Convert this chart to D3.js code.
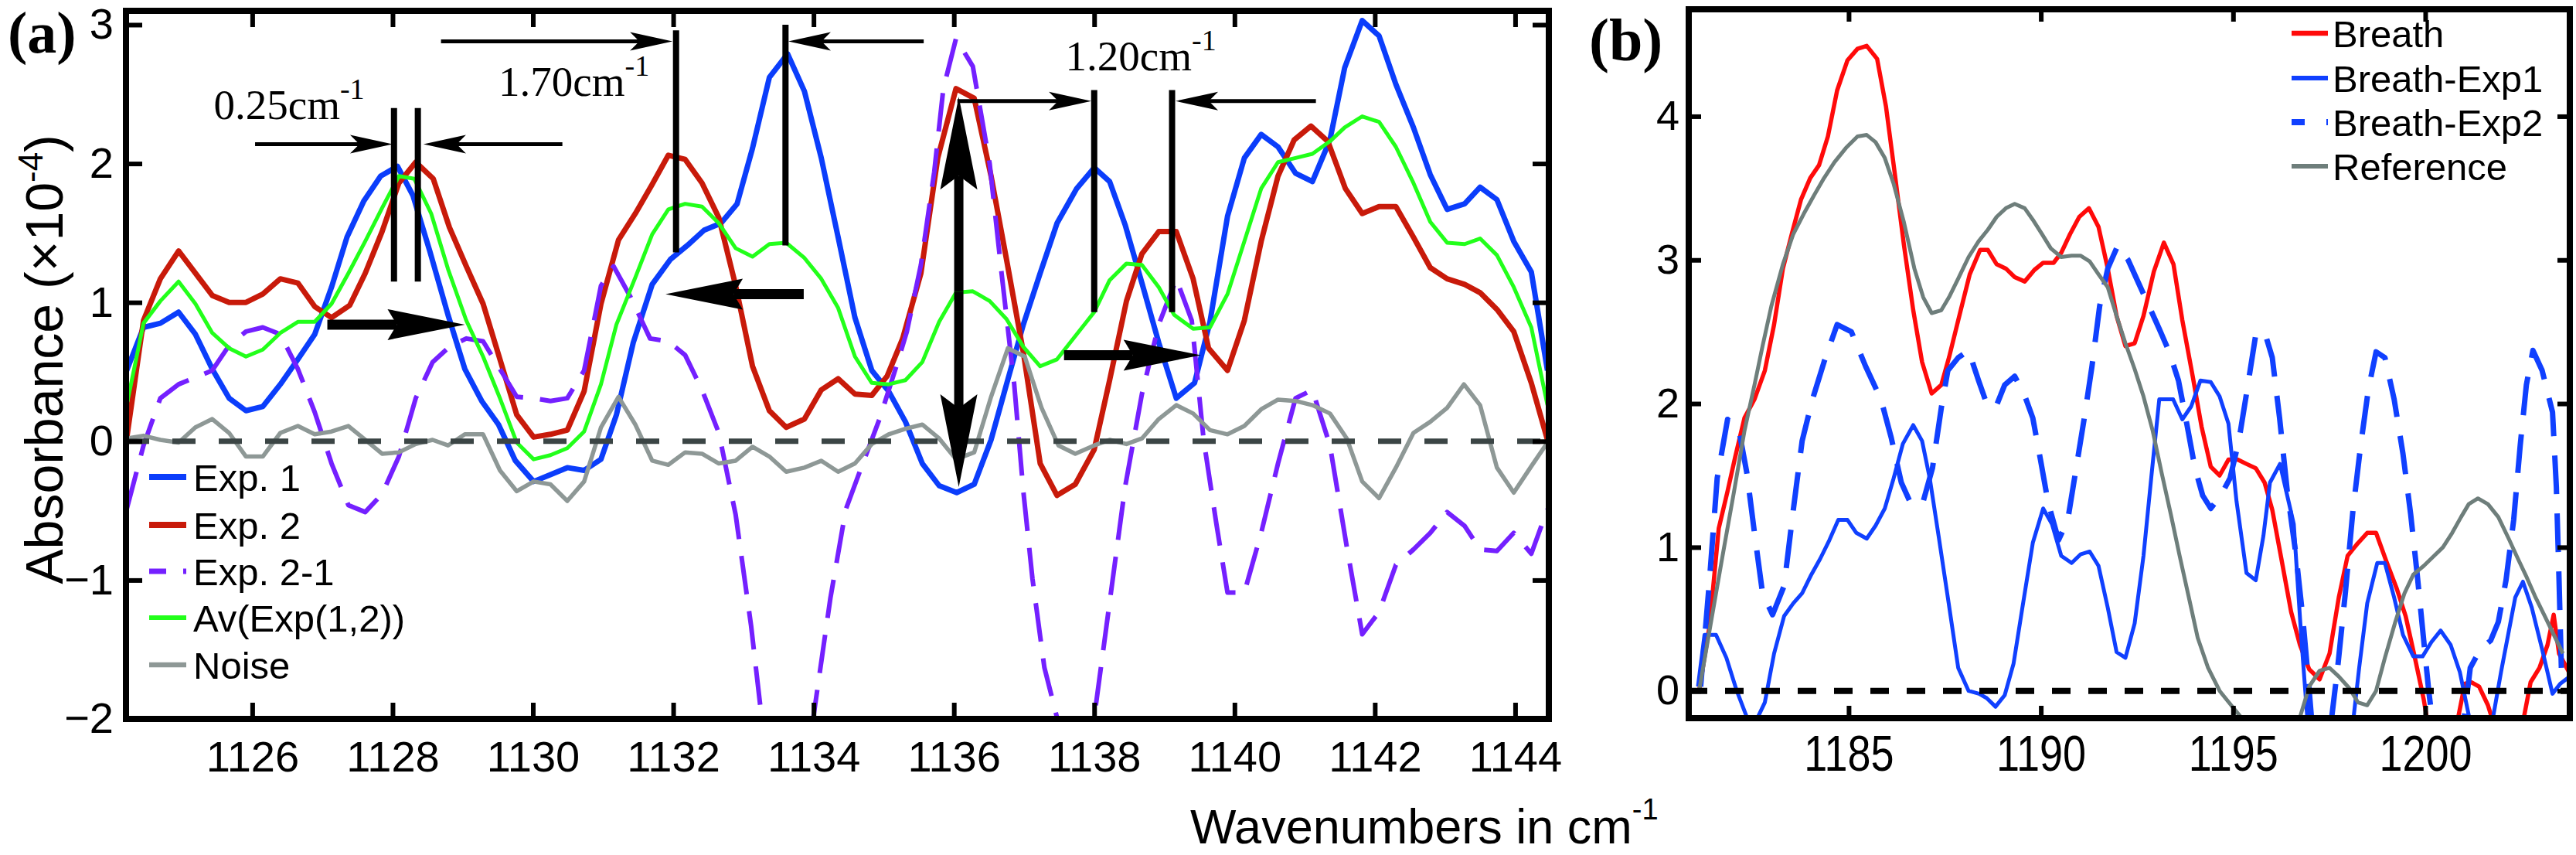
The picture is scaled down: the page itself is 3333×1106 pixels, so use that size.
<!DOCTYPE html>
<html>
<head>
<meta charset="utf-8">
<script src="https://cdn.jsdelivr.net/npm/d3@7/dist/d3.min.js"></script>
<style>
    body { margin: 0; background: #fff; }
    svg { display: block; }
</style>
</head>
<body>
<svg id="fig" width="3333" height="1106"></svg>
<script>
// ---- panel (a): [wavenumber, absorbance (x1e-4)] ----
const exp1 = [[1124.21,0.51],[1124.45,0.82],[1124.69,0.85],[1124.95,0.93],[1125.19,0.77],[1125.43,0.52],[1125.67,0.31],[1125.91,0.22],[1126.15,0.25],[1126.40,0.41],[1126.65,0.59],[1126.89,0.77],[1127.13,1.11],[1127.35,1.47],[1127.59,1.73],[1127.83,1.91],[1128.07,1.98],[1128.29,1.77],[1128.53,1.37],[1128.79,0.91],[1129.03,0.52],[1129.27,0.29],[1129.51,0.12],[1129.75,-0.14],[1130.01,-0.29],[1130.25,-0.24],[1130.49,-0.19],[1130.73,-0.21],[1130.97,-0.13],[1131.19,0.19],[1131.43,0.71],[1131.70,1.13],[1131.96,1.31],[1132.20,1.41],[1132.44,1.52],[1132.68,1.57],[1132.91,1.71],[1133.13,2.11],[1133.37,2.62],[1133.63,2.79],[1133.87,2.52],[1134.11,2.04],[1134.35,1.47],[1134.59,0.89],[1134.83,0.51],[1135.07,0.36],[1135.31,0.14],[1135.55,-0.16],[1135.79,-0.32],[1136.04,-0.37],[1136.29,-0.31],[1136.53,0.01],[1136.75,0.41],[1136.99,0.84],[1137.23,1.21],[1137.47,1.57],[1137.75,1.82],[1138.00,1.97],[1138.22,1.87],[1138.44,1.56],[1138.68,1.14],[1138.92,0.71],[1139.17,0.31],[1139.43,0.42],[1139.65,0.86],[1139.90,1.62],[1140.14,2.04],[1140.38,2.21],[1140.62,2.12],[1140.87,1.93],[1141.11,1.87],[1141.36,2.17],[1141.57,2.69],[1141.82,3.03],[1142.06,2.92],[1142.30,2.57],[1142.55,2.26],[1142.79,1.92],[1143.03,1.67],[1143.28,1.71],[1143.50,1.83],[1143.74,1.74],[1143.98,1.44],[1144.23,1.22],[1144.46,0.51]];

const exp2 = [[1124.21,0.02],[1124.45,0.87],[1124.69,1.17],[1124.95,1.37],[1125.19,1.21],[1125.43,1.05],[1125.67,1.00],[1125.91,1.00],[1126.15,1.06],[1126.40,1.17],[1126.65,1.14],[1126.89,0.97],[1127.13,0.89],[1127.39,0.98],[1127.61,1.21],[1127.85,1.51],[1128.09,1.86],[1128.33,2.01],[1128.58,1.89],[1128.81,1.54],[1129.05,1.26],[1129.29,0.99],[1129.53,0.59],[1129.77,0.19],[1130.01,0.03],[1130.25,0.05],[1130.49,0.08],[1130.73,0.36],[1130.97,0.99],[1131.22,1.45],[1131.46,1.64],[1131.70,1.85],[1131.93,2.06],[1132.17,2.03],[1132.41,1.86],[1132.65,1.61],[1132.89,1.12],[1133.13,0.54],[1133.37,0.22],[1133.61,0.10],[1133.87,0.16],[1134.11,0.37],[1134.35,0.45],[1134.59,0.34],[1134.83,0.33],[1135.05,0.47],[1135.27,0.74],[1135.53,1.21],[1135.77,2.04],[1136.03,2.54],[1136.29,2.47],[1136.53,1.91],[1136.75,1.31],[1136.99,0.64],[1137.23,-0.16],[1137.47,-0.39],[1137.73,-0.31],[1138.00,-0.06],[1138.22,0.44],[1138.46,1.01],[1138.68,1.35],[1138.92,1.51],[1139.17,1.51],[1139.41,1.17],[1139.63,0.67],[1139.90,0.51],[1140.14,0.87],[1140.38,1.44],[1140.62,1.91],[1140.85,2.17],[1141.09,2.27],[1141.33,2.16],[1141.58,1.82],[1141.82,1.64],[1142.06,1.69],[1142.30,1.69],[1142.55,1.47],[1142.79,1.25],[1143.03,1.17],[1143.28,1.13],[1143.50,1.07],[1143.74,0.95],[1143.98,0.79],[1144.23,0.42],[1144.46,0.01]];

const exp21 = [[1124.21,-0.49],[1124.45,-0.03],[1124.69,0.31],[1124.95,0.41],[1125.19,0.46],[1125.43,0.51],[1125.67,0.69],[1125.91,0.79],[1126.15,0.82],[1126.40,0.77],[1126.65,0.52],[1126.89,0.21],[1127.13,-0.16],[1127.37,-0.46],[1127.61,-0.51],[1127.85,-0.38],[1128.09,-0.11],[1128.33,0.31],[1128.57,0.57],[1128.81,0.68],[1129.05,0.74],[1129.29,0.72],[1129.53,0.52],[1129.77,0.32],[1130.01,0.31],[1130.25,0.29],[1130.49,0.31],[1130.73,0.51],[1130.97,1.12],[1131.15,1.26],[1131.39,1.04],[1131.67,0.74],[1131.93,0.72],[1132.17,0.62],[1132.41,0.37],[1132.65,0.06],[1132.89,-0.53],[1133.11,-1.33],[1133.28,-2.08],[1133.62,-2.40],[1133.98,-2.05],[1134.24,-1.13],[1134.46,-0.49],[1134.68,-0.19],[1134.94,0.16],[1135.18,0.54],[1135.33,0.79],[1135.53,1.27],[1135.72,1.94],[1135.85,2.54],[1136.03,2.90],[1136.27,2.70],[1136.51,2.00],[1136.68,1.21],[1136.86,0.41],[1136.99,-0.36],[1137.12,-0.99],[1137.29,-1.63],[1137.47,-1.99],[1137.75,-2.30],[1138.00,-1.99],[1138.22,-1.16],[1138.44,-0.33],[1138.68,0.34],[1138.92,0.84],[1139.17,1.17],[1139.39,0.87],[1139.56,0.01],[1139.74,-0.59],[1139.90,-1.09],[1140.14,-1.09],[1140.38,-0.66],[1140.62,-0.16],[1140.87,0.31],[1141.11,0.37],[1141.36,-0.03],[1141.60,-0.76],[1141.82,-1.39],[1142.06,-1.23],[1142.30,-0.89],[1142.55,-0.78],[1142.79,-0.66],[1143.03,-0.51],[1143.28,-0.61],[1143.50,-0.78],[1143.74,-0.79],[1143.98,-0.66],[1144.23,-0.81],[1144.46,-0.49]];

const avExp = [[1124.21,0.26],[1124.45,0.85],[1124.69,1.01],[1124.95,1.15],[1125.19,0.99],[1125.43,0.78],[1125.67,0.67],[1125.91,0.61],[1126.15,0.66],[1126.40,0.78],[1126.65,0.86],[1126.89,0.86],[1127.13,0.99],[1127.37,1.21],[1127.61,1.44],[1127.85,1.68],[1128.09,1.91],[1128.31,1.89],[1128.55,1.64],[1128.79,1.24],[1129.05,0.87],[1129.29,0.61],[1129.53,0.31],[1129.77,-0.01],[1130.01,-0.13],[1130.25,-0.10],[1130.49,-0.05],[1130.73,0.07],[1130.97,0.41],[1131.19,0.84],[1131.46,1.18],[1131.70,1.49],[1131.93,1.67],[1132.17,1.71],[1132.41,1.69],[1132.65,1.57],[1132.89,1.39],[1133.13,1.33],[1133.37,1.42],[1133.61,1.43],[1133.87,1.32],[1134.11,1.17],[1134.35,0.96],[1134.59,0.61],[1134.83,0.42],[1135.07,0.41],[1135.31,0.44],[1135.55,0.57],[1135.79,0.86],[1136.03,1.07],[1136.27,1.08],[1136.51,1.01],[1136.75,0.88],[1136.99,0.68],[1137.23,0.54],[1137.47,0.59],[1137.75,0.77],[1138.00,0.93],[1138.22,1.16],[1138.46,1.28],[1138.68,1.27],[1138.92,1.11],[1139.14,0.91],[1139.41,0.81],[1139.65,0.82],[1139.90,1.06],[1140.14,1.44],[1140.38,1.82],[1140.62,2.01],[1140.87,2.04],[1141.11,2.07],[1141.36,2.16],[1141.57,2.26],[1141.82,2.34],[1142.06,2.30],[1142.30,2.12],[1142.55,1.86],[1142.79,1.58],[1143.03,1.43],[1143.28,1.42],[1143.50,1.46],[1143.74,1.34],[1143.98,1.11],[1144.23,0.82],[1144.46,0.26]];

const noise = [[1124.21,0.02],[1124.45,0.04],[1124.69,0.01],[1124.95,-0.01],[1125.19,0.10],[1125.43,0.16],[1125.67,0.06],[1125.91,-0.11],[1126.15,-0.11],[1126.40,0.06],[1126.65,0.11],[1126.89,0.05],[1127.13,0.07],[1127.37,0.11],[1127.61,0.01],[1127.85,-0.09],[1128.09,-0.08],[1128.33,-0.02],[1128.57,0.01],[1128.79,-0.03],[1129.03,0.05],[1129.29,0.05],[1129.53,-0.21],[1129.77,-0.36],[1130.01,-0.29],[1130.25,-0.31],[1130.49,-0.43],[1130.73,-0.29],[1130.97,0.10],[1131.22,0.32],[1131.46,0.12],[1131.70,-0.14],[1131.93,-0.17],[1132.17,-0.08],[1132.41,-0.09],[1132.65,-0.16],[1132.89,-0.14],[1133.13,-0.04],[1133.37,-0.11],[1133.61,-0.22],[1133.87,-0.19],[1134.11,-0.14],[1134.35,-0.22],[1134.59,-0.16],[1134.83,-0.02],[1135.07,0.05],[1135.31,0.09],[1135.55,0.12],[1135.79,0.02],[1136.03,-0.13],[1136.29,-0.08],[1136.53,0.32],[1136.77,0.67],[1137.01,0.61],[1137.25,0.24],[1137.49,-0.03],[1137.73,-0.09],[1138.00,-0.03],[1138.22,0.01],[1138.46,-0.02],[1138.68,0.02],[1138.92,0.16],[1139.17,0.26],[1139.41,0.20],[1139.65,0.08],[1139.90,0.05],[1140.14,0.11],[1140.38,0.23],[1140.62,0.30],[1140.87,0.29],[1141.11,0.26],[1141.36,0.20],[1141.60,0.02],[1141.82,-0.29],[1142.06,-0.41],[1142.30,-0.19],[1142.55,0.06],[1142.79,0.14],[1143.03,0.24],[1143.27,0.41],[1143.50,0.26],[1143.74,-0.19],[1143.98,-0.37],[1144.23,-0.18],[1144.46,-0.01]];

// ---- panel (b) ----
const breath = [[1181.11,0.00],[1181.38,0.45],[1181.62,1.13],[1181.85,1.39],[1182.05,1.63],[1182.29,1.90],[1182.55,2.03],[1182.82,2.23],[1183.06,2.55],[1183.29,2.94],[1183.53,3.19],[1183.76,3.42],[1184.00,3.57],[1184.23,3.66],[1184.46,3.86],[1184.70,4.18],[1184.97,4.39],[1185.23,4.47],[1185.47,4.49],[1185.74,4.40],[1185.97,4.07],[1186.21,3.58],[1186.44,3.10],[1186.68,2.65],[1186.91,2.29],[1187.16,2.07],[1187.41,2.13],[1187.61,2.32],[1187.85,2.58],[1188.15,2.90],[1188.42,3.07],[1188.62,3.07],[1188.85,2.97],[1189.09,2.94],[1189.32,2.88],[1189.58,2.85],[1189.83,2.93],[1190.06,2.98],[1190.33,2.98],[1190.53,3.05],[1190.76,3.18],[1191.00,3.30],[1191.25,3.36],[1191.50,3.23],[1191.74,2.94],[1191.97,2.61],[1192.20,2.40],[1192.44,2.42],[1192.67,2.61],[1192.94,2.92],[1193.20,3.12],[1193.45,2.97],[1193.68,2.58],[1193.95,2.19],[1194.18,1.84],[1194.42,1.56],[1194.65,1.50],[1194.88,1.61],[1195.12,1.61],[1195.35,1.58],[1195.59,1.55],[1195.82,1.45],[1196.02,1.26],[1196.27,0.90],[1196.51,0.55],[1196.74,0.32],[1196.98,0.15],[1197.25,0.08],[1197.51,0.26],[1197.75,0.65],[1197.98,0.94],[1198.22,1.02],[1198.49,1.10],[1198.72,1.10],[1198.99,0.90],[1199.26,0.71],[1199.49,0.52],[1199.73,0.23],[1199.96,-0.06],[1200.06,-0.22],[1200.83,-0.22],[1201.03,0.05],[1201.20,0.06],[1201.40,0.03],[1201.63,-0.10],[1201.77,-0.22],[1202.54,-0.22],[1202.74,0.06],[1202.97,0.16],[1203.18,0.32],[1203.34,0.53],[1203.48,0.26],[1203.76,0.12]];

const breathExp1 = [[1181.08,0.03],[1181.25,0.39],[1181.55,0.39],[1181.82,0.23],[1182.09,0.00],[1182.39,-0.21],[1182.59,-0.21],[1182.82,-0.08],[1183.06,0.26],[1183.32,0.52],[1183.56,0.61],[1183.79,0.68],[1184.03,0.81],[1184.26,0.92],[1184.50,1.05],[1184.73,1.19],[1184.97,1.19],[1185.20,1.10],[1185.47,1.06],[1185.70,1.15],[1185.94,1.27],[1186.17,1.48],[1186.41,1.72],[1186.68,1.85],[1186.91,1.74],[1187.11,1.48],[1187.35,1.06],[1187.58,0.65],[1187.85,0.16],[1188.12,0.00],[1188.39,-0.02],[1188.59,-0.05],[1188.82,-0.11],[1189.06,-0.03],[1189.29,0.19],[1189.52,0.58],[1189.79,1.03],[1190.06,1.27],[1190.29,1.16],[1190.53,0.94],[1190.80,0.89],[1191.03,0.95],[1191.27,0.97],[1191.50,0.87],[1191.74,0.58],[1191.97,0.27],[1192.20,0.23],[1192.44,0.47],[1192.67,0.94],[1192.87,1.48],[1193.08,2.03],[1193.44,2.03],[1193.68,1.89],[1193.91,1.98],[1194.15,2.16],[1194.42,2.15],[1194.65,2.05],[1194.88,1.86],[1195.09,1.32],[1195.35,0.82],[1195.59,0.77],[1195.79,1.08],[1195.96,1.45],[1196.22,1.58],[1196.58,1.16],[1196.78,0.35],[1196.94,-0.22],[1198.12,-0.22],[1198.28,0.16],[1198.49,0.61],[1198.75,0.89],[1198.95,0.89],[1199.19,0.65],[1199.42,0.39],[1199.69,0.24],[1199.93,0.24],[1200.16,0.34],[1200.40,0.42],[1200.66,0.32],[1200.90,0.13],[1201.17,-0.22],[1201.74,-0.22],[1201.97,0.13],[1202.34,0.65],[1202.54,0.76],[1202.77,0.58],[1203.04,0.29],[1203.31,-0.02],[1203.51,0.05],[1203.76,0.10]];

const breathExp2 = [[1181.15,0.03],[1181.38,0.77],[1181.58,1.48],[1181.85,1.89],[1182.15,1.81],[1182.35,1.52],[1182.55,1.10],[1182.76,0.68],[1183.02,0.53],[1183.32,0.73],[1183.56,1.26],[1183.79,1.74],[1184.06,2.03],[1184.36,2.29],[1184.70,2.55],[1185.07,2.50],[1185.44,2.26],[1185.84,2.03],[1186.11,1.76],[1186.37,1.45],[1186.64,1.29],[1186.94,1.32],[1187.18,1.55],[1187.41,1.97],[1187.58,2.23],[1187.85,2.32],[1188.12,2.37],[1188.38,2.16],[1188.59,2.00],[1188.82,1.97],[1189.06,2.13],[1189.32,2.19],[1189.56,2.07],[1189.79,1.90],[1189.99,1.61],[1190.19,1.31],[1190.46,1.05],[1190.70,1.19],[1190.90,1.52],[1191.13,1.90],[1191.33,2.26],[1191.53,2.68],[1191.74,2.94],[1192.00,3.10],[1192.27,3.00],[1192.54,2.84],[1192.81,2.68],[1193.08,2.52],[1193.34,2.36],[1193.58,2.16],[1193.81,1.84],[1194.01,1.55],[1194.21,1.36],[1194.42,1.27],[1194.68,1.36],[1194.92,1.48],[1195.15,1.74],[1195.35,2.07],[1195.59,2.48],[1195.82,2.50],[1196.02,2.32],[1196.21,1.90],[1196.41,1.39],[1196.64,0.94],[1196.81,0.52],[1196.94,0.13],[1197.05,-0.22],[1197.55,-0.22],[1197.72,0.16],[1197.92,0.68],[1198.12,1.26],[1198.32,1.71],[1198.52,2.10],[1198.72,2.36],[1198.95,2.32],[1199.19,2.03],[1199.42,1.65],[1199.62,1.23],[1199.79,0.81],[1199.96,0.35],[1200.09,0.00],[1200.19,-0.22],[1201.00,-0.22],[1201.17,0.16],[1201.43,0.29],[1201.70,0.35],[1201.90,0.48],[1202.10,0.77],[1202.30,1.19],[1202.47,1.71],[1202.63,2.13],[1202.80,2.37],[1203.04,2.23],[1203.31,1.94],[1203.41,1.42],[1203.48,0.77],[1203.54,0.16]];

const reference = [[1181.11,0.00],[1181.42,0.48],[1181.72,0.94],[1182.02,1.39],[1182.29,1.81],[1182.55,2.13],[1182.76,2.40],[1182.99,2.68],[1183.29,2.97],[1183.56,3.18],[1183.83,3.32],[1184.10,3.45],[1184.36,3.57],[1184.63,3.68],[1184.93,3.78],[1185.23,3.86],[1185.47,3.87],[1185.70,3.82],[1185.94,3.71],[1186.17,3.53],[1186.44,3.26],[1186.71,2.94],[1186.94,2.74],[1187.16,2.63],[1187.41,2.65],[1187.61,2.74],[1187.85,2.87],[1188.12,3.02],[1188.38,3.13],[1188.62,3.21],[1188.85,3.30],[1189.09,3.36],[1189.32,3.39],[1189.58,3.36],[1189.79,3.28],[1190.03,3.18],[1190.26,3.08],[1190.53,3.02],[1190.80,3.03],[1191.03,3.03],[1191.27,2.99],[1191.50,2.90],[1191.74,2.81],[1191.97,2.61],[1192.20,2.42],[1192.44,2.24],[1192.67,2.05],[1192.91,1.81],[1193.14,1.52],[1193.38,1.23],[1193.61,0.94],[1193.85,0.65],[1194.08,0.37],[1194.35,0.16],[1194.65,0.00],[1194.95,-0.10],[1195.29,-0.21],[1196.00,-0.30],[1196.71,-0.21],[1196.98,0.03],[1197.25,0.14],[1197.51,0.16],[1197.75,0.10],[1198.02,0.02],[1198.25,-0.08],[1198.49,-0.10],[1198.72,0.00],[1198.95,0.23],[1199.22,0.48],[1199.46,0.68],[1199.69,0.81],[1199.96,0.87],[1200.23,0.94],[1200.46,1.00],[1200.70,1.10],[1200.93,1.21],[1201.13,1.30],[1201.37,1.34],[1201.63,1.30],[1201.90,1.21],[1202.17,1.06],[1202.41,0.92],[1202.64,0.79],[1202.87,0.65],[1203.11,0.52],[1203.38,0.37],[1203.58,0.26]];

// ticks and legend labels
const ticksAx = [1126, 1128, 1130, 1132, 1134, 1136, 1138, 1140, 1142, 1144];
const ticksAy = [-2, -1, 0, 1, 2, 3];
const ticksBx = [1185, 1190, 1195, 1200];
const ticksBy = [0, 1, 2, 3, 4];
const namesA = ["Exp. 1", "Exp. 2", "Exp. 2-1", "Av(Exp(1,2))", "Noise"];
const namesB = ["Breath", "Breath-Exp1", "Breath-Exp2", "Reference"];

// annotations of panel (a), in data units
const markLines = [[1128.02, 2.40, 1.15], [1128.36, 2.40, 1.15], [1132.04, 2.96, 1.36], [1133.60, 3.00, 1.41], [1138.00, 2.53, 0.93], [1139.11, 2.53, 0.93]];
const thinArrows = [[1126.04, 1128.00, 2.14], [1130.42, 1128.44, 2.14], [1128.69, 1131.99, 2.88], [1135.57, 1133.64, 2.88], [1136.05, 1137.96, 2.45], [1141.16, 1139.16, 2.45]];
const thickArrows = [[1127.07, 1129.03, 0.84], [1133.86, 1131.89, 1.06], [1137.57, 1139.52, 0.62]];
const doubleArrow = [1136.07, 2.48, -0.33];
const shiftLabels = [["0.25cm", 1125.45, 2.32], ["1.70cm", 1129.51, 2.49], ["1.20cm", 1137.59, 2.67]];

const SANS = "'Liberation Sans', Arial, sans-serif";
const SERIF = "'Liberation Serif', 'Times New Roman', serif";

/** One framed plot with its own scales. */
class Panel {
    constructor(svg, id, box, xDomain, yDomain) {
        this.svg = svg;
        this.box = box;
        this.x = d3.scaleLinear().domain(xDomain).range([box.left, box.right]);
        this.y = d3.scaleLinear().domain(yDomain).range([box.bottom, box.top]);

        svg.append("clipPath")
            .attr("id", "clip-" + id)
            .append("rect")
            .attr("x", box.left)
            .attr("y", box.top)
            .attr("width", box.right - box.left)
            .attr("height", box.bottom - box.top);

        this.plotG = svg.append("g").attr("clip-path", "url(#clip-" + id + ")");
        this.line = d3.line()
            .x(d => this.x(d[0]))
            .y(d => this.y(d[1]));
    }

    drawAxes(xTicks, yTicks, o) {
        let b = this.box;
        let fmt = d3.format("d");
        let sides = [
            {axis: d3.axisBottom(this.x).tickValues(xTicks).tickFormat(fmt).tickPadding(o.padX), t: "translate(0," + b.bottom + ")", bottom: true},
            {axis: d3.axisTop(this.x).tickValues(xTicks).tickFormat(""), t: "translate(0," + b.top + ")"},
            {axis: d3.axisLeft(this.y).tickValues(yTicks).tickFormat(fmt).tickPadding(o.padY), t: "translate(" + b.left + ",0)"},
            {axis: d3.axisRight(this.y).tickValues(yTicks).tickFormat(""), t: "translate(" + b.right + ",0)"}
        ];
        sides.forEach(s => {
            let g = this.svg.append("g")
                .attr("transform", s.t)
                .call(s.axis.tickSize(-o.tick));
            g.select(".domain").remove();
            g.selectAll(".tick line")
                .attr("stroke", "#000")
                .attr("stroke-width", o.tickWidth);
            g.attr("font-family", SANS).attr("font-size", o.fontSize);
            g.selectAll(".tick text").attr("fill", "#000");
            // labels under panel (b) are drawn a little taller
            if (s.bottom && o.stretchX) {
                g.selectAll(".tick text")
                    .attr("y", 0)
                    .attr("dy", 0)
                    .attr("transform", "translate(0," + o.baseX + ") scale(1," + o.stretchX + ")");
            }
        });
    }

    drawFrame(w) {
        let b = this.box;
        this.svg.append("rect")
            .attr("x", b.left)
            .attr("y", b.top)
            .attr("width", b.right - b.left)
            .attr("height", b.bottom - b.top)
            .attr("fill", "none")
            .attr("stroke", "#000")
            .attr("stroke-width", w);
    }

    drawSeries(list) {
        this.plotG.selectAll("path.series")
            .data(list)
            .enter()
            .append("path")
            .attr("class", "series")
            .attr("fill", "none")
            .attr("stroke-linejoin", "round")
            .attr("stroke", d => d.color)
            .attr("stroke-width", d => d.width)
            .attr("stroke-dasharray", d => d.dash || null)
            .attr("d", d => this.line(d.data));
    }

    drawZero(color, width, dash) {
        this.plotG.append("line")
            .attr("x1", this.box.left)
            .attr("x2", this.box.right)
            .attr("y1", this.y(0))
            .attr("y2", this.y(0))
            .attr("stroke", color)
            .attr("stroke-width", width)
            .attr("stroke-dasharray", dash);
    }

    drawLegend(list, o) {
        let g = this.svg.append("g");
        list.forEach((d, i) => {
            let yy = o.rows[i];
            g.append("line")
                .attr("x1", o.x1).attr("x2", o.x2)
                .attr("y1", yy).attr("y2", yy)
                .attr("stroke", d.color)
                .attr("stroke-width", d.width + 1)
                .attr("stroke-dasharray", d.dash ? o.dash : null);
            g.append("text")
                .attr("x", o.tx)
                .attr("y", yy)
                .attr("dy", "0.36em")
                .attr("font-family", SANS)
                .attr("font-size", o.fontSize)
                .text(d.name);
        });
    }
}

// arrow head polygon, tip at (tx,ty) pointing along (dx,dy)
function headPath(tx, ty, dx, dy, len, half, notch) {
    let bx = tx - dx * len, by = ty - dy * len;
    let nx = -dy, ny = dx;
    let p1 = [bx + nx * half, by + ny * half];
    let p2 = [bx - nx * half, by - ny * half];
    let pn = [tx - dx * (len - notch), ty - dy * (len - notch)];
    return "M" + tx + "," + ty + "L" + p1 + "L" + pn + "L" + p2 + "Z";
}

function drawArrow(g, x1, y1, x2, y2, o) {
    let L = Math.hypot(x2 - x1, y2 - y1);
    let dx = (x2 - x1) / L, dy = (y2 - y1) / L;
    g.append("line")
        .attr("x1", x1).attr("y1", y1)
        .attr("x2", x2 - dx * (o.len - o.notch)).attr("y2", y2 - dy * (o.len - o.notch))
        .attr("stroke", "#000")
        .attr("stroke-width", o.shaft);
    g.append("path")
        .attr("d", headPath(x2, y2, dx, dy, o.len, o.half, o.notch))
        .attr("fill", "#000");
}

let svg = d3.select("#fig");
svg.append("rect").attr("width", 3333).attr("height", 1106).attr("fill", "#fff");

//---------------- panel (a)
let pa = new Panel(svg, "a", {left: 163, right: 2004, top: 14, bottom: 930}, [1124.2, 1144.48], [-2, 3.1]);
let seriesA = [
    {name: namesA[0], data: exp1, color: "#0b3dfb", width: 7},
    {name: namesA[1], data: exp2, color: "#c81a0a", width: 7},
    {name: namesA[2], data: exp21, color: "#7420ff", width: 6, dash: "50,22"},
    {name: namesA[3], data: avExp, color: "#22ff1a", width: 5},
    {name: namesA[4], data: noise, color: "#8e9896", width: 5.5}
];
pa.drawSeries(seriesA);
pa.drawZero("#3b4545", 7, "30,30");
pa.drawAxes(ticksAx, ticksAy, {tick: 21, tickWidth: 6, fontSize: 56, padX: 28, padY: 16});
pa.drawFrame(8);
pa.drawLegend(seriesA, {x1: 193, x2: 241, tx: 250, rows: [617, 679, 739, 799, 860], fontSize: 49, dash: "22,22"});

// annotations
let ann = svg.append("g");
markLines.forEach(d => {
    ann.append("line")
        .attr("x1", pa.x(d[0])).attr("x2", pa.x(d[0]))
        .attr("y1", pa.y(d[1])).attr("y2", pa.y(d[2]))
        .attr("stroke", "#000")
        .attr("stroke-width", 8);
});
thinArrows.forEach(d => {
    drawArrow(ann, pa.x(d[0]), pa.y(d[2]), pa.x(d[1]), pa.y(d[2]), {shaft: 5, len: 55, half: 12, notch: 12});
});
thickArrows.forEach(d => {
    drawArrow(ann, pa.x(d[0]), pa.y(d[2]), pa.x(d[1]), pa.y(d[2]), {shaft: 13, len: 100, half: 20, notch: 12});
});
let dax = pa.x(doubleArrow[0]), day1 = pa.y(doubleArrow[1]), day2 = pa.y(doubleArrow[2]);
let mid = (day1 + day2) / 2;
drawArrow(ann, dax, mid, dax, day1, {shaft: 12, len: 120, half: 24, notch: 18});
drawArrow(ann, dax, mid, dax, day2, {shaft: 12, len: 120, half: 24, notch: 18});

shiftLabels.forEach(d => {
    let t = ann.append("text")
        .attr("x", pa.x(d[1]))
        .attr("y", pa.y(d[2]))
        .attr("font-family", SERIF)
        .attr("font-size", 55)
        .text(d[0]);
    t.append("tspan")
        .attr("dy", -26)
        .attr("font-size", 38)
        .text("-1");
});

svg.append("text")
    .attr("x", 10).attr("y", 68)
    .attr("font-family", SERIF)
    .attr("font-weight", "bold")
    .attr("font-size", 76)
    .text("(a)");

let ylab = svg.append("text")
    .attr("transform", "translate(81,465) rotate(-90)")
    .attr("text-anchor", "middle")
    .attr("font-family", SANS)
    .attr("font-size", 68)
    .text("Absorbance (\u00d710");
ylab.append("tspan").attr("dy", -26).attr("font-size", 44).text("-4");
ylab.append("tspan").attr("dy", 26).attr("font-size", 68).text(")");

//---------------- panel (b)
let pb = new Panel(svg, "b", {left: 2185, right: 3325, top: 12, bottom: 929}, [1180.84, 1203.76], [-0.19, 4.745]);
let seriesB = [
    {name: namesB[0], data: breath, color: "#ff0a0a", width: 5.5},
    {name: namesB[1], data: breathExp1, color: "#1040ff", width: 5},
    {name: namesB[2], data: breathExp2, color: "#1040ff", width: 7, dash: "50,25"},
    {name: namesB[3], data: reference, color: "#6e7e7b", width: 5}
];
pb.drawSeries(seriesB);
pb.drawZero("#000", 8, "24,23");
pb.drawAxes(ticksBx, ticksBy, {tick: 16, tickWidth: 6, fontSize: 54, padX: 29, padY: 12, stretchX: 1.2, baseX: 68});
pb.drawFrame(8);
pb.drawLegend(seriesB, {x1: 2965, x2: 3012, tx: 3018, rows: [43, 101, 158, 215], fontSize: 49, dash: "17,28"});

svg.append("text")
    .attr("x", 2056).attr("y", 78)
    .attr("font-family", SERIF)
    .attr("font-weight", "bold")
    .attr("font-size", 78)
    .text("(b)");

// shared x label
let xlab = svg.append("text")
    .attr("x", 1540).attr("y", 1091)
    .attr("font-family", SANS)
    .attr("font-size", 63)
    .text("Wavenumbers in cm");
xlab.append("tspan").attr("dy", -31).attr("font-size", 38).text("-1");
</script>
</body>
</html>
